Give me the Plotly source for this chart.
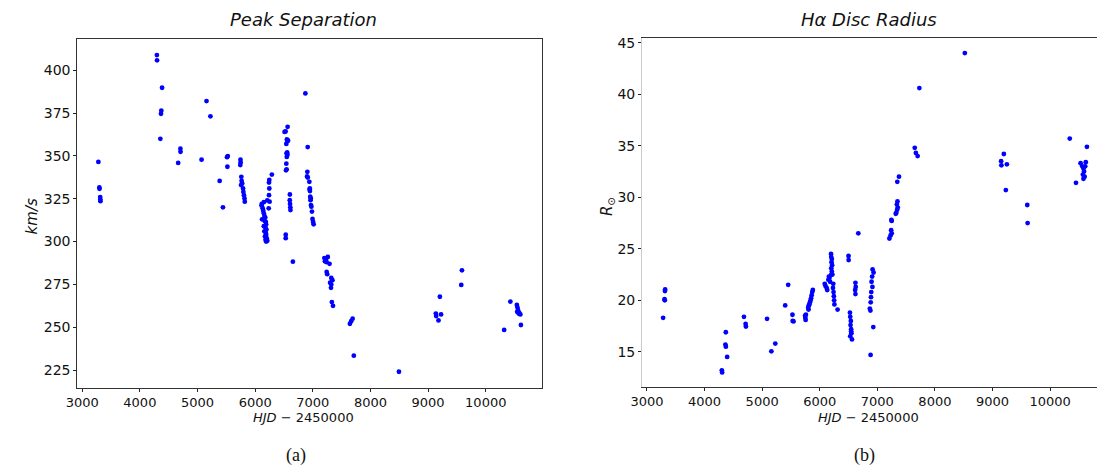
import plotly.graph_objects as go

# ---- Panel (a): Peak separation ----
hjd_sep = [3280, 3297, 3300, 3312, 3314, 3316,
           4295, 4298, 4385, 4372, 4366, 4355, 4703, 4705, 4664,
           5070, 5156, 5224, 5384, 5441, 5525, 5512, 5518,
           5745, 5748, 5742, 5760, 5765, 5775, 5755, 5790, 5795, 5805, 5815, 5820,
           6110, 6130, 6140, 6150, 6160, 6175, 6120, 6165, 6185, 6190, 6150, 6180,
           6195, 6160, 6185, 6190, 6170, 6200, 6180, 6210, 6190, 6150, 6115, 6210,
           6240, 6245, 6240, 6250, 6235, 6290, 6245,
           6563, 6528, 6510, 6550, 6560, 6570, 6540, 6555, 6560, 6545, 6548, 6540, 6545, 6535,
           6530, 6530, 6602, 6600, 6605, 6610, 6612, 6654,
           6871, 6911, 6905, 6900, 6912, 6940, 6945, 6950, 6948, 6955, 6960, 6965, 6968, 6975,
           6985, 6995, 7005, 7014,
           7200, 7230, 7260, 7210, 7240, 7290, 7240, 7250, 7320, 7340, 7300, 7320, 7315, 7330, 7350,
           7643, 7665, 7690, 7711, 8494,
           9204, 9134, 9140, 9225, 9180, 9587, 9575,
           10319, 10427, 10540, 10550, 10560, 10545, 10570, 10600, 10580, 10610]
sep_kms = [346.5, 331.6, 330.8, 326.0, 324.5, 323.6,
           408.9, 405.8, 389.8, 376.4, 374.6, 360.0, 354.2, 352.4, 345.9,
           347.8, 382.0, 373.1, 335.4, 320.0, 349.9, 349.3, 343.7,
           347.8, 346.2, 344.7, 337.8, 335.4, 333.9, 333.0, 331.0, 329.0, 327.1, 325.2, 323.3,
           321.0, 319.5, 318.0, 316.5, 315.0, 314.0, 313.0, 312.0, 311.5, 310.0, 309.0, 308.0,
           307.0, 306.0, 305.0, 304.0, 303.0, 302.0, 301.0, 300.5, 300.0, 323.0, 322.0, 324.0,
           334.5, 331.0, 327.1, 323.3, 319.4, 339.1, 336.0,
           367.0, 364.3, 364.0, 359.6, 358.6, 359.0, 357.0, 352.0, 350.7, 351.5, 349.4, 345.5, 342.2, 341.6,
           304.0, 302.0, 327.5, 324.2, 322.0, 320.0, 318.4, 288.3,
           386.5, 355.2, 340.7, 338.0, 337.4, 334.9, 330.4, 329.5, 331.0, 326.2, 324.2, 325.2, 321.3, 320.4,
           317.5, 313.2, 311.5, 310.1,
           290.4, 290.0, 291.0, 288.5, 288.0, 287.0, 282.3, 281.0, 278.8, 277.5, 276.0, 275.0, 273.0, 264.7, 262.5,
           252.0, 253.5, 255.0, 233.4, 224.0,
           267.8, 258.0, 256.5, 257.5, 254.0, 283.2, 274.7,
           248.4, 265.0, 263.0, 261.5, 260.0, 259.0, 258.0, 257.5, 258.5, 251.3]

# ---- Panel (b): H-alpha disc radius ----
hjd_rad = [3280, 3309, 3305, 3312, 3315,
           4300, 4305, 4369, 4362, 4370, 4392,
           4684, 4713, 4718, 5085, 5160, 5228,
           5400, 5452, 5526, 5530, 5545,
           5745, 5750, 5755, 5760,
           5800, 5810, 5820, 5830, 5840, 5850, 5860, 5870, 5880, 5805,
           6087, 6100, 6120, 6150, 6160, 6180, 6200, 6170, 6130,
           6196, 6200, 6210, 6205, 6215, 6200, 6210, 6220,
           6230, 6240, 6245, 6250, 6255, 6310, 6235,
           6500, 6502,
           6620, 6625, 6615, 6620,
           6525, 6530, 6540, 6535, 6545, 6550, 6530, 6560, 6545,
           6670,
           6918, 6935, 6910, 6900, 6915, 6895, 6890, 6885, 6870, 6880, 6930, 6883,
           7210, 7230, 7250, 7240, 7244, 7250, 7330, 7345, 7355, 7340, 7320, 7350, 7347, 7376,
           7650, 7670, 7700, 7730, 8520,
           9197, 9150, 9155, 9250, 9232, 9604, 9610,
           10342, 10640, 10450, 10530, 10560, 10580, 10590, 10570, 10600, 10580, 10620, 10610]
rad_rsun = [18.3, 20.0, 20.1, 20.9, 21.05,
            13.2, 13.0, 16.9, 15.7, 15.5, 14.5,
            18.4, 17.7, 17.45, 18.2, 15.05, 15.8,
            19.5, 21.5, 18.6, 18.0, 17.95,
            18.5, 18.3, 18.1, 18.6,
            19.3, 19.5, 19.6, 19.8, 20.0, 20.2, 20.5, 20.8, 21.0, 19.1,
            21.6, 21.4, 21.2, 22.0, 22.3, 21.8, 22.5, 22.2, 21.0,
            24.5, 24.2, 24.0, 23.7, 23.4, 23.1, 22.8, 22.5,
            21.2, 20.8, 20.4, 20.0, 19.6, 19.1, 21.6,
            24.3, 23.9,
            21.7, 21.3, 21.0, 20.6,
            18.8, 18.4, 18.0, 17.6, 17.2, 16.8, 16.5, 16.2, 17.0,
            26.5,
            23.0, 22.7, 22.3, 21.8, 21.3, 20.8, 20.3, 19.8, 19.2, 19.0, 17.4, 14.7,
            26.0, 26.3, 26.5, 26.8, 27.8, 27.7, 28.5, 28.8, 29.0, 29.3, 28.4, 29.6, 31.5, 32.0,
            34.8, 34.3, 34.0, 40.6, 44.0,
            34.2, 33.5, 33.1, 33.2, 30.7, 29.25, 27.5,
            35.7, 34.9, 31.4, 33.3, 33.0, 32.8, 32.5, 32.2, 32.0, 31.8, 33.4, 33.0]

xticks = [3000, 4000, 5000, 6000, 7000, 8000, 9000, 10000]
xtick_labels = ["3000", "4000", "5000", "6000", "7000", "8000", "9000", "10000"]
sep_ticks = [225, 250, 275, 300, 325, 350, 375, 400]
rad_ticks = [15, 20, 25, 30, 35, 40, 45]

W, H = 1097, 470
FONT = "DejaVu Sans"
marker = dict(color="#0000ff", size=4.8, line=dict(width=0))

fig = go.Figure()
fig.add_trace(go.Scatter(x=hjd_sep, y=sep_kms, mode="markers", marker=marker,
                         xaxis="x", yaxis="y", showlegend=False))
fig.add_trace(go.Scatter(x=hjd_rad, y=rad_rsun, mode="markers", marker=marker,
                         xaxis="x2", yaxis="y2", showlegend=False))

xcommon = dict(showgrid=False, zeroline=False, ticks="outside", ticklen=3, tickwidth=1,
               tickcolor="#222", tickfont=dict(family=FONT, size=13, color="#111"))
ycommon = dict(showgrid=False, zeroline=False, ticks="outside", ticklen=3, tickwidth=1,
               tickcolor="#222", tickfont=dict(family=FONT, size=14, color="#111"))

fig.update_layout(
    width=W, height=H, margin=dict(l=0, r=0, t=0, b=0),
    paper_bgcolor="white", plot_bgcolor="white",
    xaxis=dict(domain=[66 / W, 536 / W], range=[2914, 10978], tickvals=xticks, ticktext=xtick_labels,
               showline=True, linecolor="#333", linewidth=1, mirror=True, anchor="y", **xcommon),
    yaxis=dict(domain=[1 - 387 / H, 1 - 36 / H], range=[214.8, 418.4], tickvals=sep_ticks,
               showline=True, linecolor="#333", linewidth=1, mirror=True, anchor="x", **ycommon),
    xaxis2=dict(domain=[637 / W, 1.0], range=[2914, 10815], tickvals=xticks, ticktext=xtick_labels,
                showline=True, linecolor="#333", linewidth=1, mirror=True, anchor="y2", **xcommon),
    yaxis2=dict(domain=[1 - 386 / H, 1 - 35 / H], range=[11.63, 45.48], tickvals=rad_ticks,
                showline=True, linecolor="#cccccc", linewidth=1, mirror=False, anchor="x2", **ycommon),
)

def ann(text, x, y, size, family=FONT, angle=0, color="#111"):
    fig.add_annotation(text=text, x=x / W, y=1 - y / H, xref="paper", yref="paper",
                       showarrow=False, xanchor="center", yanchor="middle", textangle=angle,
                       font=dict(family=family, size=size, color=color))

ann("<i>Peak Separation</i>", 295, 17, 18)
ann("<i>Hα Disc Radius</i>", 866, 17, 18)
ann("<i>HJD</i> − 2450000", 295, 417, 13)
ann("<i>HJD</i> − 2450000", 866, 417, 13)
ann("<i>km/s</i>", 20, 215, 15, angle=-90)
ann("<i>R</i><sub>⊙</sub>", 602, 205, 15, angle=-90)
ann("(a)", 287, 455, 18, family="Liberation Serif")
ann("(b)", 862, 455, 18, family="Liberation Serif")

fig.write_html("out.html")
